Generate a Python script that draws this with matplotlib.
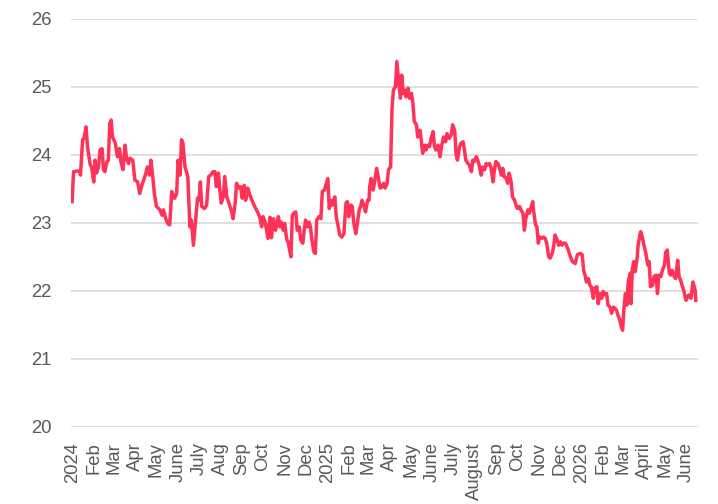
import matplotlib
matplotlib.use("Agg")
import matplotlib.pyplot as plt
import pandas as pd

start_date = "2024-01-01"
obs_day = [0, 2, 7, 11, 12, 15, 17, 20, 22, 26, 28, 31, 33, 35, 38, 40, 43, 45, 47, 50,
           52, 54, 56, 58, 62, 65, 68, 70, 73, 76, 78, 81, 83, 87, 90, 94, 97, 100, 105, 108,
           111, 113, 116, 118, 121, 126, 129, 131, 135, 138, 140, 143, 147, 150, 152, 155, 157, 159, 162, 166,
           169, 171, 174, 177, 180, 182, 184, 186, 190, 193, 196, 199, 202, 205, 207, 210, 212, 214, 217, 219,
           222, 225, 229, 231, 234, 236, 239, 242, 244, 247, 249, 252, 255, 258, 262, 266, 269, 272, 274, 277,
           279, 281, 284, 286, 289, 292, 296, 298, 300, 303, 305, 308, 310, 312, 314, 316, 318, 321, 323, 326,
           328, 331, 333, 335, 338, 340, 342, 344, 347, 349, 351, 354, 357, 359, 362, 365, 367, 369, 371, 373,
           377, 379, 381, 384, 387, 390, 393, 395, 397, 400, 402, 404, 407, 409, 412, 414, 416, 419, 421, 424,
           426, 427, 429, 432, 434, 437, 440, 442, 445, 447, 449, 452, 454, 457, 459, 461, 464, 466, 468, 471,
           473, 475, 477, 479, 482, 484, 487, 489, 491, 494, 496, 499, 501, 503, 506, 508, 510, 513, 515, 518,
           520, 522, 525, 528, 530, 533, 536, 538, 541, 544, 546, 549, 551, 553, 556, 558, 561, 563, 565, 568,
           570, 573, 575, 577, 580, 582, 584, 587, 589, 592, 594, 596, 599, 601, 604, 606, 608, 611, 613, 616,
           618, 620, 623, 625, 627, 630, 632, 635, 637, 639, 642, 644, 647, 649, 651, 654, 656, 659, 661, 662,
           665, 667, 669, 671, 674, 676, 679, 681, 684, 686, 689, 691, 693, 696, 698, 701, 703, 705, 708, 710,
           712, 715, 718, 722, 725, 729, 732, 734, 736, 738, 741, 743, 745, 748, 750, 753, 755, 757, 760, 762,
           765, 767, 769, 772, 774, 777, 779, 781, 784, 786, 788, 790, 792, 794, 796, 798, 801, 802, 804, 806,
           808, 811, 812, 815, 816, 819, 821, 823, 826, 828, 830, 833, 835, 838, 840, 842, 845, 847, 850, 852,
           854, 857, 859, 861, 864, 866, 869, 871, 873, 876, 878, 881, 883, 885, 888, 891, 894, 895]
obs_value = [23.31, 23.75, 23.76, 23.76, 23.70, 24.22, 24.24, 24.41, 24.12, 23.85, 23.82, 23.60, 23.92, 23.73, 23.82, 24.07, 24.09, 23.78, 23.75, 23.90,
             23.92, 24.46, 24.51, 24.26, 24.17, 23.97, 24.09, 23.90, 23.78, 24.14, 23.95, 23.87, 23.95, 23.92, 23.63, 23.60, 23.43, 23.55, 23.70, 23.82,
             23.70, 23.92, 23.65, 23.43, 23.24, 23.19, 23.11, 23.19, 23.04, 22.98, 22.97, 23.46, 23.36, 23.43, 23.92, 23.70, 24.22, 24.17, 23.82, 23.68,
             22.94, 23.04, 22.67, 23.01, 23.36, 23.33, 23.60, 23.24, 23.21, 23.26, 23.68, 23.70, 23.75, 23.75, 23.53, 23.73, 23.48, 23.29, 23.38, 23.68,
             23.38, 23.29, 23.16, 23.06, 23.29, 23.58, 23.51, 23.53, 23.36, 23.55, 23.33, 23.51, 23.41, 23.33, 23.24, 23.16, 23.09, 22.94, 23.09, 23.01,
             22.89, 22.77, 23.08, 22.78, 23.06, 22.89, 23.09, 22.94, 23.01, 22.89, 22.99, 22.75, 22.72, 22.60, 22.50, 23.11, 23.14, 23.16, 22.89, 22.94,
             22.75, 22.70, 22.89, 23.04, 22.94, 23.01, 22.94, 22.75, 22.57, 22.55, 23.04, 23.09, 23.06, 23.46, 23.48, 23.58, 23.65, 23.21, 23.33, 23.26,
             23.38, 23.09, 22.99, 22.82, 22.79, 22.84, 23.29, 23.31, 23.09, 23.26, 23.24, 23.01, 22.84, 22.97, 23.19, 23.24, 23.33, 23.24, 23.16, 23.33,
             23.33, 23.53, 23.65, 23.48, 23.60, 23.80, 23.63, 23.51, 23.53, 23.58, 23.51, 23.58, 23.78, 23.82, 24.66, 24.95, 25.00, 25.37, 25.15, 24.83,
             25.17, 24.90, 24.95, 24.85, 24.98, 24.83, 24.90, 24.76, 24.49, 24.44, 24.26, 24.36, 24.22, 24.02, 24.14, 24.07, 24.14, 24.12, 24.24, 24.34,
             24.12, 24.07, 24.14, 23.97, 24.12, 24.26, 24.19, 24.31, 24.24, 24.29, 24.44, 24.36, 24.00, 23.92, 24.12, 24.17, 24.19, 24.07, 23.92, 23.87,
             23.85, 23.75, 23.92, 23.90, 23.97, 23.92, 23.85, 23.70, 23.82, 23.78, 23.87, 23.85, 23.87, 23.82, 23.60, 23.78, 23.90, 23.87, 23.82, 23.70,
             23.80, 23.68, 23.65, 23.58, 23.73, 23.60, 23.38, 23.33, 23.26, 23.21, 23.24, 23.19, 23.14, 22.89, 23.06, 23.19, 23.14, 23.24, 23.31, 23.19,
             22.97, 22.94, 22.70, 22.79, 22.77, 22.79, 22.77, 22.70, 22.50, 22.48, 22.55, 22.65, 22.82, 22.75, 22.67, 22.72, 22.67, 22.70, 22.70, 22.65,
             22.60, 22.50, 22.43, 22.40, 22.53, 22.55, 22.53, 22.30, 22.23, 22.13, 22.18, 22.08, 22.06, 21.89, 22.04, 22.06, 21.81, 21.96, 21.89, 21.99,
             21.94, 21.96, 21.79, 21.76, 21.67, 21.76, 21.74, 21.72, 21.62, 21.57, 21.47, 21.42, 21.76, 21.96, 21.79, 22.13, 22.26, 21.81, 22.33, 22.43,
             22.28, 22.50, 22.65, 22.84, 22.87, 22.75, 22.65, 22.57, 22.38, 22.43, 22.06, 22.08, 22.21, 22.23, 21.96, 22.23, 22.21, 22.30, 22.38, 22.57,
             22.60, 22.26, 22.23, 22.30, 22.21, 22.18, 22.45, 22.21, 22.16, 22.06, 21.99, 21.86, 21.91, 21.94, 21.89, 22.13, 22.01, 21.86]

tick_months = pd.date_range("2024-01-01", "2026-06-01", freq="MS")
tick_labels = ["2024", "Feb", "Mar", "Apr", "May", "June", "July", "Aug", "Sep", "Oct", "Nov", "Dec",
               "2025", "Feb", "Mar", "Apr", "May", "June", "July", "August", "Sep", "Oct", "Nov", "Dec",
               "2026", "Feb", "Mar", "April", "May", "June"]
y_ticks = [20, 21, 22, 23, 24, 25, 26]

dates = pd.to_datetime(start_date) + pd.to_timedelta(obs_day, unit="D")

plt.rcParams["font.family"] = ["Liberation Sans", "DejaVu Sans"]
fig = plt.figure(figsize=(7.18, 5.04), dpi=100)
ax = fig.add_axes([0.099, 0.153, 0.873, 0.810])

ax.plot(dates, obs_value, color="#FF3358", lw=2.5, solid_joinstyle="round", zorder=3)

ax.set_ylim(20, 26)
ax.set_yticks(y_ticks)
ax.set_xlim(dates[0] - pd.Timedelta(days=1.5), dates[-1] + pd.Timedelta(days=3))
ax.set_xticks(tick_months)
ax.set_xticklabels(tick_labels, rotation=90, ha="center", va="top")
ax.grid(axis="y", color="#d9d9d9", lw=1.2)
ax.grid(axis="x", visible=False)
for s in ax.spines.values():
    s.set_visible(False)
ax.tick_params(axis="both", length=0, labelsize=13.3, labelcolor="#595959")
ax.tick_params(axis="y", pad=14)
ax.tick_params(axis="x", pad=11)

fig.savefig("out.png", dpi=100)
